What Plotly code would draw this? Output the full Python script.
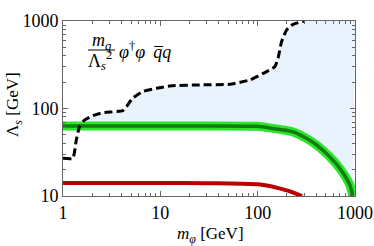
import plotly.graph_objects as go

# ---- data ----
m_dash = [1.0, 1.26, 1.37, 1.48, 1.67, 2.03, 2.56, 4.11, 4.48, 5.2, 6.6, 9.1,
          12.5, 25.4, 51.7, 83, 114, 150, 162, 176, 198, 231, 305]
lam_dash = [27, 27, 43.7, 62, 74, 82.8, 89.6, 94.4, 105, 131, 156, 170,
            181, 186, 189, 212, 252, 300, 375, 580, 789, 916, 1000]

m_green = [1, 10, 100, 133, 182, 231, 317, 402, 551, 698, 885, 949]
lam_green = [63, 63, 62.5, 60, 57, 54, 45.6, 38.3, 28, 20.7, 13.4, 10]

m_red = [1, 10, 30, 50, 100, 133, 182, 219, 250, 286]
lam_red = [14.1, 14.1, 14.0, 13.9, 13.6, 13.0, 11.9, 11.2, 10.6, 10.0]

x_ticks = [1, 10, 100, 1000]
y_ticks = [10, 100, 1000]
x_range = [1, 1000]
y_range = [10, 1000]

minor_x = [d * 10 ** k for k in range(3) for d in range(2, 10)]
minor_y = [d * 10 ** k for k in range(1, 3) for d in range(2, 10)]

# fill region between the green band and the dashed curve
m_start = 1.48
fx = [m for m in m_dash if m >= m_start] + [x_range[1]]
fy = [l for m, l in zip(m_dash, lam_dash) if m >= m_start] + [y_range[1]]
gx = [m for m in m_green if m >= m_start]
gy = [l for m, l in zip(m_green, lam_green) if m >= m_start]
poly_x = fx + gx[::-1]
poly_y = fy + gy[::-1]

fig = go.Figure()
fig.add_trace(go.Scatter(x=poly_x, y=poly_y, fill="toself", mode="none",
                         fillcolor="rgb(232,243,253)", hoverinfo="skip"))
fig.add_trace(go.Scatter(x=m_green, y=lam_green, mode="lines",
                         line=dict(color="rgb(45,228,45)", width=9, shape="spline", smoothing=0.6)))
fig.add_trace(go.Scatter(x=m_green, y=lam_green, mode="lines",
                         line=dict(color="rgb(15,125,15)", width=3.5, shape="spline", smoothing=0.6)))
fig.add_trace(go.Scatter(x=m_red, y=lam_red, mode="lines",
                         line=dict(color="rgb(185,0,0)", width=4, shape="spline", smoothing=0.6)))
fig.add_trace(go.Scatter(x=m_dash, y=lam_dash, mode="lines",
                         line=dict(color="black", width=3, dash="8px,4px", shape="spline", smoothing=0.5)))

FONT = "Times New Roman, Liberation Serif, Tinos, serif"
axis_common = dict(
    type="log", showgrid=False, zeroline=False, showline=True, linecolor="#666",
    linewidth=1, mirror="ticks", ticks="inside", ticklen=5, tickcolor="#666",
    tickfont=dict(family=FONT, size=18, color="black"), automargin=False,
)
fig.update_xaxes(**axis_common, range=[0, 3], tickvals=x_ticks,
                 ticktext=[str(v) for v in x_ticks],
                 minor=dict(ticks="inside", ticklen=3, tickcolor="#666", tickvals=minor_x))
fig.update_yaxes(**axis_common, range=[1, 3], tickvals=y_ticks,
                 ticktext=[str(v) for v in y_ticks],
                 minor=dict(ticks="inside", ticklen=3, tickcolor="#666", tickvals=minor_y))

L, R, T, B = 63, 19, 21, 50
W, H = 374, 246
pw, ph = W - L - R, H - T - B


def px(x):
    return (x - L) / pw


def py(y):
    return (H - B - y) / ph


ann = []
tf = dict(family=FONT, size=18, color="black")
ann.append(dict(x=px(101), y=py(41), xref="paper", yref="paper", text="<i>m</i><sub><i>q</i></sub>",
                showarrow=False, font=tf, xanchor="center", yanchor="middle"))
ann.append(dict(x=px(100), y=py(60), xref="paper", yref="paper", text="Λ<sub><i>s</i></sub><sup>2</sup>",
                showarrow=False, font=tf, xanchor="center", yanchor="middle"))
ann.append(dict(x=px(117), y=py(50), xref="paper", yref="paper",
                text="<i>φ</i><sup>†</sup><i>φ</i>\u2009 <i>q\u0305q</i>",
                showarrow=False, font=tf, xanchor="left", yanchor="middle"))
ann.append(dict(x=px(210), y=py(235), xref="paper", yref="paper",
                text="<i>m</i><sub><i>φ</i></sub> [GeV]",
                showarrow=False, font=dict(family=FONT, size=17, color="black"),
                xanchor="center", yanchor="middle"))
ann.append(dict(x=px(14), y=py(105), xref="paper", yref="paper",
                text="Λ<sub><i>s</i></sub> [GeV]", textangle=-90,
                showarrow=False, font=dict(family=FONT, size=17, color="black"),
                xanchor="center", yanchor="middle"))

fig.update_layout(
    width=W, height=H, margin=dict(l=L, r=R, t=T, b=B, autoexpand=False),
    paper_bgcolor="white", plot_bgcolor="white", showlegend=False,
    annotations=ann,
    shapes=[dict(type="line", xref="paper", yref="paper", x0=px(88), x1=px(115),
                 y0=py(50), y1=py(50), line=dict(color="black", width=1))],
)

fig.write_html("out.html", config={"displayModeBar": False},
               post_script="document.body.style.margin='0';")
